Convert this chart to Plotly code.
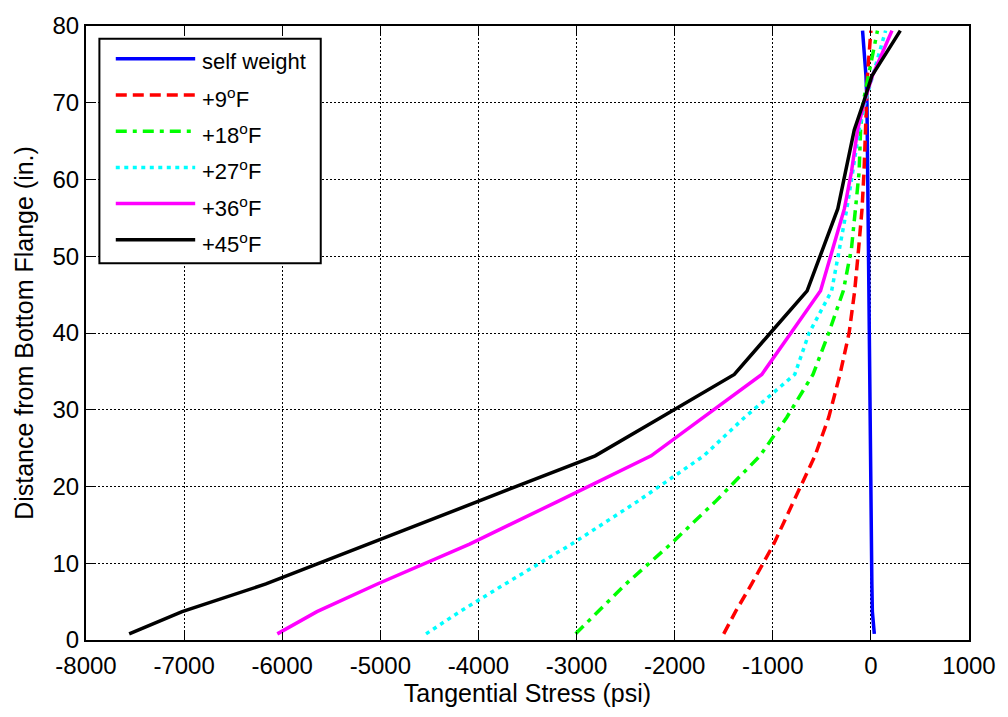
import plotly.graph_objects as go

# Distance from the bottom flange (in.) at which stresses were evaluated
depth_in = [0.8, 3.7, 7.3, 12.5, 18, 24, 29, 34.6, 40, 45.5, 51, 56.2, 61, 66.5, 70, 73.5, 79.4]

# Tangential stress (psi) for each load case
stress_self_weight = [35, 15, 10, 6, 2, -1, -4, -8, -13, -18, -22, -26, -30, -35, -40, -50, -85]
stress_9F = [-1500, -1380, -1215, -990, -790, -570, -430, -315, -222, -165, -125, -90, -70, -58, -50, -35, 0]
stress_18F = [-3009, -2783, -2497, -2040, -1588, -1130, -858, -590, -430, -281, -198, -157, -120, -105, -80, -25, 67]
stress_27F = [-4534, -4189, -3729, -3050, -2386, -1703, -1288, -776, -630, -400, -320, -245, -185, -120, -60, 20, 150]
stress_36F = [-6050, -5646, -5030, -4090, -3200, -2240, -1708, -1112, -815, -513, -388, -270, -198, -135, -70, 15, 215]
stress_45F = [-7560, -7020, -6166, -5121, -4015, -2810, -2141, -1392, -1025, -650, -489, -337, -259, -169, -76, 10, 300]

case_labels = ["self weight", "+9<sup>o</sup>F", "+18<sup>o</sup>F",
               "+27<sup>o</sup>F", "+36<sup>o</sup>F", "+45<sup>o</sup>F"]
case_values = [stress_self_weight, stress_9F, stress_18F, stress_27F, stress_36F, stress_45F]

x_ticks = [-8000, -7000, -6000, -5000, -4000, -3000, -2000, -1000, 0, 1000]
y_ticks = [0, 10, 20, 30, 40, 50, 60, 70, 80]

colors = ["#0000FF", "#FF0000", "#00FF00", "#00FFFF", "#FF00FF", "#000000"]
dashes = ["solid", "11px,6px", "11px,6px,4px,6px", "4px,4.5px", "solid", "solid"]
LINE_W = 3.5
FONT = "Arial, Liberation Sans, sans-serif"

# Figure geometry in pixels
W, H = 1008, 717
PL, PR, PT, PB = 86, 975.6, 16, 640

fig = go.Figure()
for lab, vals, col, dsh in zip(case_labels, case_values, colors, dashes):
    fig.add_trace(go.Scatter(
        x=vals, y=depth_in, mode="lines", name=lab,
        line=dict(color=col, width=LINE_W, dash=dsh),
        showlegend=False,
    ))


def paper_x(px):
    return (px - PL) / (PR - PL)


def paper_y(py):
    return (PB - py) / (PB - PT)


# Hand-built legend box with long line samples
shapes = [dict(type="rect", xref="paper", yref="paper",
               x0=paper_x(99.5), x1=paper_x(322.5), y0=paper_y(257), y1=paper_y(29),
               fillcolor="white", line=dict(color="black", width=2), layer="above")]
annotations = []
row_y0, row_step = 49.3, 36.8
for i, (lab, col, dsh) in enumerate(zip(case_labels, colors, dashes)):
    ry = row_y0 + i * row_step
    shapes.append(dict(type="line", xref="paper", yref="paper",
                       x0=paper_x(116), x1=paper_x(196), y0=paper_y(ry), y1=paper_y(ry),
                       line=dict(color=col, width=LINE_W, dash=dsh), layer="above"))
    annotations.append(dict(xref="paper", yref="paper", x=paper_x(201), y=paper_y(ry + 3),
                            text=lab, showarrow=False, xanchor="left", yanchor="middle",
                            font=dict(family=FONT, size=22, color="black")))

axis_common = dict(
    showline=True, linecolor="black", linewidth=2, mirror="ticks",
    ticks="inside", ticklen=8, tickwidth=1, tickcolor="black",
    showgrid=True, gridcolor="black", gridwidth=1, griddash="2px,2px",
    zeroline=False, tickfont=dict(family=FONT, size=24, color="black"),
)

fig.update_layout(
    width=W, height=H,
    margin=dict(l=PL, r=W - PR, t=PT, b=H - PB),
    paper_bgcolor="white", plot_bgcolor="white",
    font=dict(family=FONT, color="black"),
    xaxis=dict(range=[-8000, 1000], tickvals=x_ticks, ticktext=[str(v) for v in x_ticks],
               ticklabelstandoff=3,
               title=dict(text="Tangential Stress (psi)", font=dict(family=FONT, size=25), standoff=4),
               **axis_common),
    yaxis=dict(range=[0, 80], tickvals=y_ticks, ticktext=[str(v) for v in y_ticks],
               title=dict(text="Distance from Bottom Flange (in.)", font=dict(family=FONT, size=25), standoff=12),
               **axis_common),
    shapes=shapes, annotations=annotations,
)

fig.write_html("out.html")
